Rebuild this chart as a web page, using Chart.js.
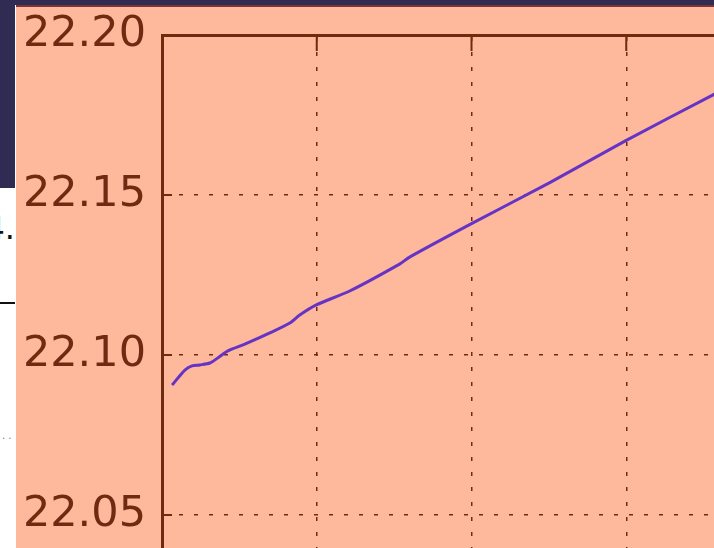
<!DOCTYPE html>
<html>
<head>
<meta charset="utf-8">
<script src="https://cdn.jsdelivr.net/npm/chart.js@4.4.0/dist/chart.umd.min.js"></script>
<style>
  html, body { margin: 0; padding: 0; width: 714px; height: 548px; overflow: hidden; background: #ffffff; }
  #topband { position: absolute; left: 0; top: 0; width: 714px; height: 5px; background: #2f2b52; }
  #leftband { position: absolute; left: 0; top: 0; width: 15px; height: 188px; background: #2f2b52; }
  #panel { position: absolute; left: 16px; top: 5px; width: 698px; height: 543px; background: #feb89c;
           border-top: 2px solid #7c3434; overflow: hidden; }
  #wrap { position: absolute; left: 0; top: -14px; width: 820px; height: 724px; }
  #side { position: absolute; left: 0; top: 188px; width: 15px; height: 360px; overflow: hidden;
          font-family: "DejaVu Sans", sans-serif; }
  #side .num { position: absolute; right: 0; top: 24px; font-size: 32px; color: #111; line-height: 1; }
  #side .rule { position: absolute; left: 0; top: 114px; width: 15px; height: 2px; background: #111; }
  #side .dots { position: absolute; left: 2px; top: 242px; font-size: 10px; color: #777; letter-spacing: 3px; }
</style>
</head>
<body>
<div id="topband"></div>
<div id="leftband"></div>
<div id="side"><span class="num">4.</span><div class="rule"></div><span class="dots">..</span></div>
<div id="panel">
  <div id="wrap"><canvas id="reading_chart" width="820" height="724"></canvas></div>
</div>
<script>
// sample positions (x units) and readings
const sampleX = [0.065, 0.103, 0.148, 0.194, 0.245, 0.310, 0.361, 0.426, 0.535, 0.697,
                 0.826, 0.890, 0.994, 1.213, 1.535, 1.600, 1.994, 2.503, 2.994, 3.561, 3.665];
const readings = [22.0906, 22.0928, 22.0953, 22.0966, 22.0969, 22.0975, 22.0991, 22.1013, 22.1034, 22.1069,
                  22.1100, 22.1125, 22.1156, 22.1200, 22.1284, 22.1306, 22.1409, 22.1538, 22.1669, 22.1813, 22.1838];
const yTicks = [22.00, 22.05, 22.10, 22.15, 22.20];

const brown = "#6e2b12";

const points = sampleX.map(function (x, i) { return { x: x, y: readings[i] }; });

const inwardTicks = {
  id: "inwardTicks",
  afterDraw: function (chart) {
    const ctx = chart.ctx;
    const area = chart.chartArea;
    ctx.save();
    ctx.strokeStyle = brown;
    ctx.lineWidth = 2;
    yTicks.forEach(function (v) {
      const py = chart.scales.y.getPixelForValue(v);
      ctx.beginPath();
      ctx.moveTo(area.left, py);
      ctx.lineTo(area.left + 10, py);
      ctx.stroke();
    });
    [1, 2, 3].forEach(function (v) {
      const px = chart.scales.x.getPixelForValue(v);
      ctx.beginPath();
      ctx.moveTo(px, area.top);
      ctx.lineTo(px, area.top + 16);
      ctx.stroke();
    });
    ctx.restore();
  }
};

document.addEventListener("DOMContentLoaded", function () {
  new Chart("reading_chart", {
    type: "line",
    data: {
      datasets: [{
        data: points,
        borderColor: "#6634c4",
        borderWidth: 3,
        pointRadius: 0,
        tension: 0.25,
        fill: false
      }]
    },
    options: {
      responsive: false,
      animation: false,
      layout: { padding: { left: 0, top: 42, right: 55, bottom: 42 } },
      plugins: { legend: { display: false }, tooltip: { enabled: false } },
      scales: {
        x: {
          type: "linear",
          position: "top",
          min: 0,
          max: 4,
          afterFit: function (scale) { scale.height = 0; },
          ticks: { display: false, stepSize: 1 },
          grid: { color: brown, lineWidth: 1.5, drawTicks: false },
          border: { display: true, color: brown, width: 3, dash: [4, 11] }
        },
        y: {
          min: 22.0,
          max: 22.2,
          afterFit: function (scale) { scale.width = 146; },
          afterBuildTicks: function (scale) {
            scale.ticks = yTicks.map(function (v) { return { value: v }; });
          },
          ticks: {
            color: brown,
            padding: 16,
            font: { family: "DejaVu Sans", size: 43 },
            callback: function (v) { return Number(v).toFixed(2); }
          },
          grid: { color: brown, lineWidth: 1.5, drawTicks: false },
          border: { display: true, color: brown, width: 3, dash: [4, 11] }
        }
      }
    },
    plugins: [inwardTicks]
  });
});
</script>
</body>
</html>
